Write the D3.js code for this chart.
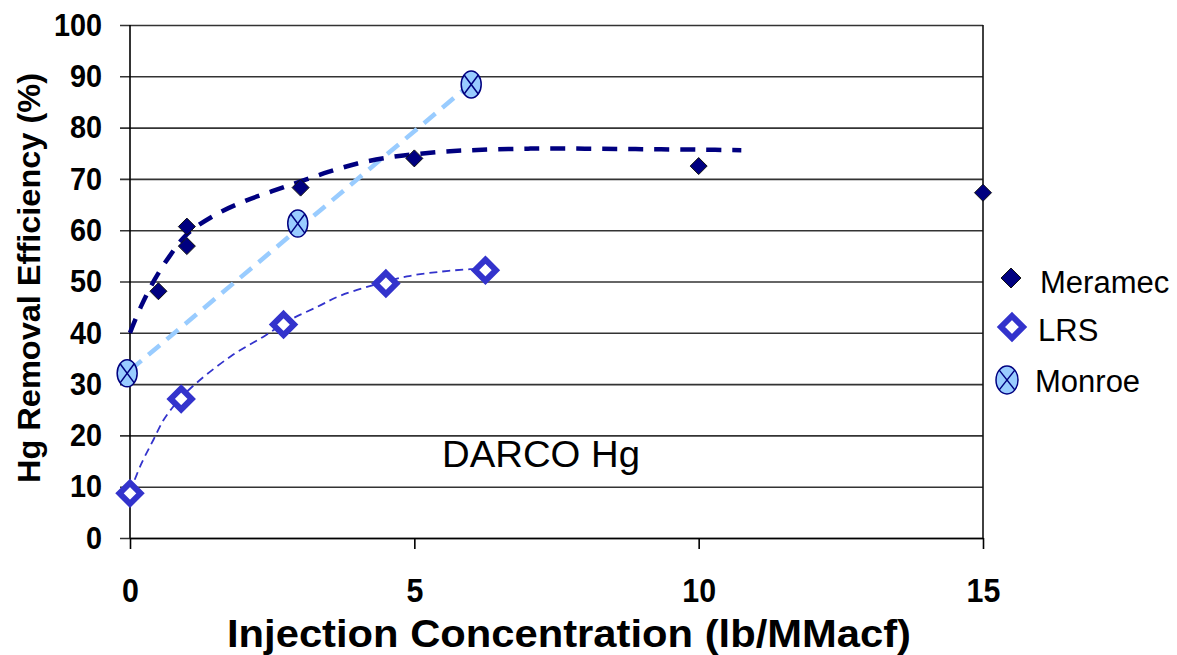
<!DOCTYPE html>
<html><head><meta charset="utf-8">
<script src="https://cdn.jsdelivr.net/npm/d3@7"></script>
<style>
html,body{margin:0;padding:0;background:#fff;}
svg{display:block;font-family:Arial,"Liberation Sans",sans-serif;}
</style></head>
<body>
<svg id="chart" width="1177" height="655"></svg>
<script>
// ---- data ----
const yTicks = [0,10,20,30,40,50,60,70,80,90,100];
const xTicks = [0,5,10,15];

const meramecX = [0.5, 1.0, 1.0, 3.0, 5.0, 10.0, 15.0];
const meramecY = [48.1, 56.9, 60.7, 68.3, 74.0, 72.5, 67.3];

const lrsX = [0.0, 0.9, 2.7, 4.5, 6.25];
const lrsY = [8.7, 27.1, 41.6, 49.6, 52.2];

const monroeX = [-0.05, 2.95, 6.0];
const monroeY = [32.1, 61.3, 88.4];

// trend lines
const meramecTrendX = [0, 0.2, 0.44, 0.7, 1.0, 1.5, 2.0, 2.5, 3.0, 3.5, 4.0, 4.5, 5.0, 5.5, 6.0, 7.0, 8.0, 9.0, 10.0, 10.75];
const meramecTrendY = [40.0, 45.3, 50.5, 55.0, 59.2, 63.0, 65.6, 67.6, 69.5, 71.4, 73.0, 74.1, 74.8, 75.3, 75.6, 75.9, 75.9, 75.8, 75.7, 75.6];

const lrsTrendX = [0, 0.2, 0.41, 0.59, 0.76, 0.9, 1.23, 1.81, 2.34, 2.81, 3.3, 3.69, 4.28, 4.87, 5.45, 5.98, 6.25];
const lrsTrendY = [9.0, 14.5, 19.1, 23.0, 25.6, 27.4, 30.8, 35.7, 39.2, 42.5, 45.1, 47.2, 49.3, 51.0, 51.9, 52.4, 52.5];

const monroeTrendX = [0, 6.0];
const monroeTrendY = [32.7, 88.6];

const seriesNames = ["Meramec", "LRS", "Monroe"];

// ---- layout ----
const svg = d3.select("#chart");
const x = d3.scaleLinear().domain([0, 15]).range([130, 983]);
const y = d3.scaleLinear().domain([0, 100]).range([538, 25]);

const NAVY = "#000080", LRSC = "#3333CC", MONF = "#99CCFF";
const condense = (sel, f) => sel.each(function () {
  const w = this.getComputedTextLength();
  d3.select(this).attr("textLength", w * f).attr("lengthAdjust", "spacingAndGlyphs");
});

// gridlines
svg.append("g").attr("transform", "translate(983,0)")
  .call(d3.axisLeft(y).tickValues(yTicks).tickSize(983 - 120).tickFormat(""))
  .call(g => g.select(".domain").remove())
  .call(g => g.selectAll("line").attr("stroke", "#333").attr("stroke-width", 1.6));

// right border
svg.append("line").attr("x1", x(15)).attr("x2", x(15)).attr("y1", y(100)).attr("y2", y(0))
  .attr("stroke", "#111").attr("stroke-width", 1.6);
// y axis line
svg.append("line").attr("x1", x(0)).attr("x2", x(0)).attr("y1", y(100)).attr("y2", y(0))
  .attr("stroke", "#000").attr("stroke-width", 1.6);

// y tick labels
svg.append("g").attr("transform", `translate(${x(0)},0)`)
  .call(d3.axisLeft(y).tickValues(yTicks).tickSize(0).tickPadding(28))
  .call(g => g.select(".domain").remove())
  .call(g => g.selectAll("text").attr("font-size", 32).attr("font-weight", "bold")
        .attr("font-family", "Arial, 'Liberation Sans', sans-serif").attr("fill", "#000").call(condense, 0.9));

// x axis
svg.append("g").attr("transform", `translate(0,${y(0)})`)
  .call(d3.axisBottom(x).tickValues(xTicks).tickSizeInner(11).tickSizeOuter(0).tickPadding(30).tickFormat(d3.format("d")))
  .call(g => g.select(".domain").attr("stroke", "#000").attr("stroke-width", 1.6))
  .call(g => g.selectAll(".tick line").attr("stroke", "#000").attr("stroke-width", 1.6))
  .call(g => g.selectAll("text").attr("font-size", 33).attr("font-weight", "bold")
        .attr("font-family", "Arial, 'Liberation Sans', sans-serif").attr("fill", "#000").call(condense, 0.92));

// axis titles
svg.append("text").attr("x", 569).attr("y", 647).attr("text-anchor", "middle")
  .attr("font-size", 39).attr("font-weight", "bold")
  .attr("textLength", 684).attr("lengthAdjust", "spacingAndGlyphs")
  .text("Injection Concentration (lb/MMacf)");
svg.append("text").attr("transform", "translate(40,278) rotate(-90)").attr("text-anchor", "middle")
  .attr("font-size", 32).attr("font-weight", "bold")
  .attr("textLength", 410).attr("lengthAdjust", "spacingAndGlyphs")
  .text("Hg Removal Efficiency (%)");

// annotation
svg.append("text").attr("x", 442).attr("y", 467).attr("font-size", 37).attr("fill", "#000")
  .attr("textLength", 198).attr("lengthAdjust", "spacingAndGlyphs")
  .text("DARCO Hg");

// ---- trend lines ----
const zip = (a, b) => a.map((v, i) => [v, b[i]]);
const line = d3.line().x(d => x(d[0])).y(d => y(d[1])).curve(d3.curveCatmullRom.alpha(0.5));

svg.append("path").datum(zip(monroeTrendX, monroeTrendY)).attr("d", line)
  .attr("fill", "none").attr("stroke", MONF).attr("stroke-width", 4.5).attr("stroke-dasharray", "15,9");
svg.append("path").datum(zip(meramecTrendX, meramecTrendY)).attr("d", line)
  .attr("fill", "none").attr("stroke", NAVY).attr("stroke-width", 4.5).attr("stroke-dasharray", "15,11");
svg.append("path").datum(zip(lrsTrendX, lrsTrendY)).attr("d", line)
  .attr("fill", "none").attr("stroke", LRSC).attr("stroke-width", 1.8).attr("stroke-dasharray", "8,5");

// ---- markers ----
function diamond(g, cx, cy, r, fill, stroke, sw) {
  g.append("path").attr("d", `M${cx},${cy - r}L${cx + r},${cy}L${cx},${cy + r}L${cx - r},${cy}Z`)
    .attr("fill", fill).attr("stroke", stroke).attr("stroke-width", sw);
}
function monroeMark(g, cx, cy, rx, ry) {
  g.append("ellipse").attr("cx", cx).attr("cy", cy).attr("rx", rx).attr("ry", ry)
    .attr("fill", MONF).attr("stroke", NAVY).attr("stroke-width", 1.5);
  const k = 0.7071;
  g.append("line").attr("x1", cx - rx * k).attr("y1", cy - ry * k).attr("x2", cx + rx * k).attr("y2", cy + ry * k)
    .attr("stroke", NAVY).attr("stroke-width", 1.5);
  g.append("line").attr("x1", cx + rx * k).attr("y1", cy - ry * k).attr("x2", cx - rx * k).attr("y2", cy + ry * k)
    .attr("stroke", NAVY).attr("stroke-width", 1.5);
}

const mk = svg.append("g");
meramecX.forEach((v, i) => diamond(mk, x(v), y(meramecY[i]), 8.5, NAVY, "#111", 1));
lrsX.forEach((v, i) => diamond(mk, x(v), y(lrsY[i]), 10.5, "#fff", LRSC, 6));
monroeX.forEach((v, i) => monroeMark(mk, x(v), y(monroeY[i]), 10, 13.5));

// ---- legend ----
const lg = svg.append("g");
const legY = [278, 327, 380];
const legTextX = [1040, 1038, 1035];
const legBase = [293, 341, 392];
diamond(lg, 1011, legY[0], 10, NAVY, "#111", 1);
diamond(lg, 1012, legY[1], 11, "#fff", LRSC, 6);
monroeMark(lg, 1007, legY[2], 11, 14);
seriesNames.forEach((n, i) => {
  lg.append("text").attr("x", legTextX[i]).attr("y", legBase[i]).attr("font-size", 31).attr("fill", "#000").text(n);
});
</script>
</body></html>
